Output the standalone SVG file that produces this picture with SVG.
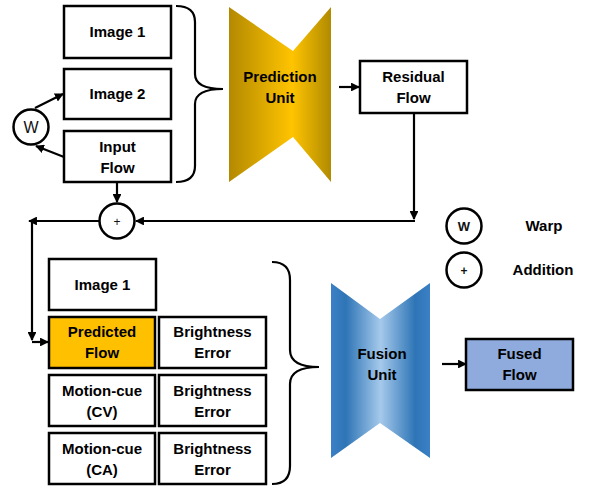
<svg xmlns="http://www.w3.org/2000/svg" width="590" height="487" viewBox="0 0 590 487">
<style>
.box{fill:#fff;stroke:#000;stroke-width:2.5}
.t{font-family:"Liberation Sans",Arial,sans-serif;font-weight:bold;font-size:15px;fill:#000;text-anchor:middle}
.c{fill:#fff;stroke:#000;stroke-width:2.5}
.ln{fill:none;stroke:#000;stroke-width:2.2}
.br{fill:none;stroke:#000;stroke-width:2.2}
</style>
<defs>
<marker id="ah" viewBox="0 0 10 10" refX="9" refY="5" markerWidth="4" markerHeight="4" orient="auto" markerUnits="strokeWidth">
<path d="M0,0 L10,5 L0,10 z" fill="#000"/>
</marker>
<linearGradient id="gold" x1="229" y1="0" x2="331" y2="0" gradientUnits="userSpaceOnUse">
<stop offset="0" stop-color="#B38900"/>
<stop offset="0.62" stop-color="#FFC400"/>
<stop offset="1" stop-color="#B08A00"/>
</linearGradient>
<linearGradient id="blue" x1="331" y1="0" x2="430" y2="0" gradientUnits="userSpaceOnUse">
<stop offset="0" stop-color="#3B80C6"/>
<stop offset="0.15" stop-color="#2E75B6"/>
<stop offset="0.5" stop-color="#A5C9EB"/>
<stop offset="0.85" stop-color="#2E75B6"/>
<stop offset="1" stop-color="#3B80C6"/>
</linearGradient>
</defs>

<g id="connectors">
<line class="ln" x1="35" y1="108" x2="63" y2="94" marker-end="url(#ah)"/>
<line class="ln" x1="64" y1="157" x2="36" y2="146" marker-end="url(#ah)"/>
<line class="ln" x1="117" y1="182" x2="117" y2="202" marker-end="url(#ah)"/>
<line class="ln" x1="339" y1="87" x2="359" y2="87" marker-end="url(#ah)"/>
<polyline class="ln" points="414,113 414,219" marker-end="url(#ah)"/>
<line class="ln" x1="415" y1="221" x2="136" y2="221" marker-end="url(#ah)"/>
<line class="ln" x1="99" y1="221" x2="29" y2="221" marker-end="url(#ah)"/>
<line class="ln" x1="32" y1="221" x2="32" y2="340" marker-end="url(#ah)"/>
<line class="ln" x1="32" y1="342" x2="48" y2="342" marker-end="url(#ah)"/>
<line class="ln" x1="442" y1="364" x2="466" y2="364" marker-end="url(#ah)"/>
<path class="br" d="M176,6 Q195,6 195,22 L195,74 Q195,89 223,89 Q195,89 195,104 L195,166 Q195,182 176,182"/>
<path class="br" d="M272,262 Q290,262 290,280 L290,350 Q290,367 319,367 Q290,367 290,384 L290,466 Q290,484 272,484"/>
</g>

<g id="image1-top"><rect class="box" x="64" y="6" width="107" height="52"/><text class="t" x="117.5" y="37">Image 1</text></g>
<g id="image2"><rect class="box" x="64" y="69" width="107" height="50"/><text class="t" x="117.5" y="99">Image 2</text></g>
<g id="input-flow"><rect class="box" x="64" y="131" width="107" height="51"/><text class="t" x="117.5" y="152">Input</text><text class="t" x="117.5" y="173">Flow</text></g>
<g id="warp"><circle class="c" cx="31" cy="127" r="17.5"/><text x="31" y="133" font-family="Liberation Sans,Arial,sans-serif" font-size="16" text-anchor="middle" fill="#111">W</text></g>
<g id="plus"><circle class="c" cx="117" cy="221" r="17.5"/><text x="117" y="226" font-family="Liberation Sans,Arial,sans-serif" font-size="12" text-anchor="middle" fill="#111">+</text></g>

<g id="prediction-unit">
<polygon points="229,7 293,51 331,7 331,182 293,137 229,182" fill="url(#gold)"/>
<text class="t" x="280" y="82">Prediction</text><text class="t" x="280" y="103">Unit</text>
</g>
<g id="residual-flow"><rect class="box" x="360" y="61" width="107" height="52"/><text class="t" x="413.5" y="82">Residual</text><text class="t" x="413.5" y="103">Flow</text></g>

<g id="legend-warp"><circle class="c" cx="464" cy="226" r="17.5"/><text x="464" y="231" font-family="Liberation Sans,Arial,sans-serif" font-weight="bold" font-size="13" text-anchor="middle" fill="#111">W</text><text class="t" x="544" y="231">Warp</text></g>
<g id="legend-add"><circle class="c" cx="464" cy="270" r="17.5"/><text x="464" y="274.5" font-family="Liberation Sans,Arial,sans-serif" font-weight="bold" font-size="12" text-anchor="middle" fill="#111">+</text><text class="t" x="543" y="275">Addition</text></g>

<g id="image1-bottom"><rect class="box" x="49" y="259" width="107" height="51"/><text class="t" x="102.5" y="290">Image 1</text></g>
<g id="predicted-flow"><rect class="box" x="49" y="317" width="106" height="51" style="fill:#FFC000"/><text class="t" x="102" y="337">Predicted</text><text class="t" x="102" y="358">Flow</text></g>
<g id="brightness-1"><rect class="box" x="159" y="317" width="107" height="51"/><text class="t" x="212.5" y="337">Brightness</text><text class="t" x="212.5" y="358">Error</text></g>
<g id="motion-cv"><rect class="box" x="49" y="375" width="106" height="51"/><text class="t" x="102" y="396">Motion-cue</text><text class="t" x="102" y="417">(CV)</text></g>
<g id="brightness-2"><rect class="box" x="159" y="375" width="107" height="51"/><text class="t" x="212.5" y="396">Brightness</text><text class="t" x="212.5" y="417">Error</text></g>
<g id="motion-ca"><rect class="box" x="49" y="433" width="106" height="51"/><text class="t" x="102" y="454">Motion-cue</text><text class="t" x="102" y="475">(CA)</text></g>
<g id="brightness-3"><rect class="box" x="159" y="433" width="107" height="51"/><text class="t" x="212.5" y="454">Brightness</text><text class="t" x="212.5" y="475">Error</text></g>

<g id="fusion-unit">
<polygon points="331,283 380,319 430,283 430,458 380,423 331,458" fill="url(#blue)"/>
<text class="t" x="382" y="359">Fusion</text><text class="t" x="382" y="380">Unit</text>
</g>
<g id="fused-flow"><rect class="box" x="466" y="339" width="107" height="51" style="fill:#8FAADC"/><text class="t" x="519.5" y="359">Fused</text><text class="t" x="519.5" y="380">Flow</text></g>
</svg>
